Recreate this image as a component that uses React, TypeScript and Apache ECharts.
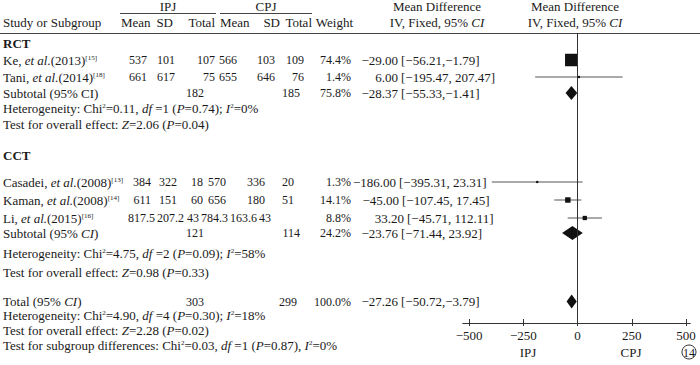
import React, { useEffect, useRef } from "react";
import * as echarts from "echarts";

// ---------- data ----------
const studyNames = ["Ke", "Tani", "Casadei", "Kaman", "Li"];
const studyYears = ["2013", "2014", "2008", "2008", "2015"];
const studyRefs = ["15", "18", "13", "14", "16"];
const ipjMean = ["537", "661", "384", "611", "817.5"];
const ipjSD = ["101", "617", "322", "151", "207.2"];
const ipjTotal = ["107", "75", "18", "60", "43"];
const cpjMean = ["566", "655", "570", "656", "784.3"];
const cpjSD = ["103", "646", "336", "180", "163.6"];
const cpjTotal = ["109", "76", "20", "51", "43"];
const studyWeight = [74.4, 1.4, 1.3, 14.1, 8.8];
const studyMD = [-29.0, 6.0, -186.0, -45.0, 33.2];
const studyLow = [-56.21, -195.47, -395.31, -107.45, -45.71];
const studyHigh = [-1.79, 207.47, 23.31, 17.45, 112.11];

const groupNames = ["RCT", "CCT"];
const pooledLabel = ["Subtotal (95% CI)", "Subtotal (95% {i|CI})", "Total (95% {i|CI})"];
const pooledIpjTotal = ["182", "121", "303"];
const pooledCpjTotal = ["185", "114", "299"];
const pooledWeight = ["75.8%", "24.2%", "100.0%"];
const pooledMD = [-28.37, -23.76, -27.26];
const pooledLow = [-55.33, -71.44, -50.72];
const pooledHigh = [-1.41, 23.92, -3.79];

const hetChi = ["0.11", "4.75", "4.90"];
const hetDf = ["1", "2", "4"];
const hetP = ["0.74", "0.09", "0.30"];
const hetI2 = ["0%", "58%", "18%"];
const overallZ = ["2.06", "0.98", "2.28"];
const overallP = ["0.04", "0.33", "0.02"];
const subgroupChi = "0.03";
const subgroupDf = "1";
const subgroupP = "0.87";
const subgroupI2 = "0%";

const axisTicks = [-500, -250, 0, 250, 500];
const favoursLabels = ["IPJ", "CPJ"];

// ---------- layout ----------
const FF = "'Liberation Serif', 'Times New Roman', serif";
const INK = "#1a1a1a";
const FS = 13; // words
const NS = 12; // table numbers
const LH = 12;
const studyRowY = [60, 77, 182, 200, 218];
const pooledRowY = [93, 233, 301.5];
const groupRowY = [43, 155];
const hetRowY = [108, 253, 315.5];
const overallRowY = [124, 272, 330];
const subgroupRowY = 345;
// anchor x of: ipj mean, ipj sd, ipj total, cpj mean, cpj sd, cpj total (right aligned unless leftAligned)
const studyCols = [
  [147, 175, 215, 237, 275, 304],
  [147, 175, 215, 237, 275, 304],
  [151, 177, 203, 226, 265, 294],
  [151, 177, 203, 226, 265, 294],
  [128, 157, 187, 201, 230, 259],
];
const studyColsLeft = [false, false, false, false, true];
const pooledCols = [
  [204, 300],
  [204, 300],
  [204, 297],
];
const weightRight = 351;
const mdRightStudy = [398, 398, 396, 399, 404];
const mdRightPooled = [398, 398, 398];

const fmt = (v: number) => (v < 0 ? "\u2212" : "") + Math.abs(v).toFixed(2);
const ciText = (lo: number, hi: number) =>
  "[" + fmt(lo) + "," + (hi >= 0 ? " " : "") + fmt(hi) + "]";

const rich = {
  i: { fontStyle: "italic", fontFamily: FF, fontSize: FS, fill: INK, lineHeight: LH },
  b: { fontWeight: "bold", fontFamily: FF, fontSize: FS, fill: INK, lineHeight: LH },
  sup: { fontFamily: FF, fontSize: 7, fill: INK, lineHeight: 7, verticalAlign: "top" },
};

function T(x: number, y: number, text: string, align: string = "left", size: number = FS, extra: any = {}) {
  return {
    type: "text",
    x,
    y,
    silent: true,
    style: {
      text,
      fill: INK,
      fontFamily: FF,
      fontSize: size,
      lineHeight: LH,
      align,
      verticalAlign: "middle",
      textAlign: align,
      textVerticalAlign: "middle",
      rich,
      ...extra,
    },
  };
}

function buildGraphics() {
  const els: any[] = [];
  // headers
  els.push(T(168, 6, "IPJ", "center"));
  els.push(T(266, 6, "CPJ", "center"));
  els.push({ type: "line", silent: true, shape: { x1: 120, y1: 13.5, x2: 216, y2: 13.5 }, style: { stroke: "#444", lineWidth: 1 } });
  els.push({ type: "line", silent: true, shape: { x1: 220, y1: 13.5, x2: 312, y2: 13.5 }, style: { stroke: "#444", lineWidth: 1 } });
  els.push(T(437, 6, "Mean Difference", "center"));
  els.push(T(575, 6, "Mean Difference", "center"));
  els.push(T(3, 22, "Study or Subgroup"));
  els.push(T(121, 22, "Mean"));
  els.push(T(173, 22, "SD", "right"));
  els.push(T(215, 22, "Total", "right"));
  els.push(T(220, 22, "Mean"));
  els.push(T(280, 22, "SD", "right"));
  els.push(T(312, 22, "Total", "right"));
  els.push(T(353, 22, "Weight", "right"));
  els.push(T(437, 22, "IV, Fixed, 95% {i|CI}", "center"));
  els.push(T(575, 22, "IV, Fixed, 95% {i|CI}", "center"));
  els.push({ type: "line", silent: true, shape: { x1: 0, y1: 33.5, x2: 700, y2: 33.5 }, style: { stroke: "#444", lineWidth: 1 } });

  groupNames.forEach((g, i) => {
    els.push(T(3, groupRowY[i], "{b|" + g + "}"));
  });

  studyNames.forEach((n, i) => {
    const y = studyRowY[i];
    const c = studyCols[i];
    const al = studyColsLeft[i] ? "left" : "right";
    els.push(T(3, y, n + ", {i|et al.}(" + studyYears[i] + "){sup|[" + studyRefs[i] + "]}"));
    [ipjMean[i], ipjSD[i], ipjTotal[i], cpjMean[i], cpjSD[i], cpjTotal[i]].forEach((v, k) => {
      els.push(T(c[k], y, v, al, NS));
    });
    els.push(T(weightRight, y, studyWeight[i].toFixed(1) + "%", "right", NS));
    els.push(T(mdRightStudy[i], y, fmt(studyMD[i]), "right"));
    els.push(T(mdRightStudy[i] + 3, y, ciText(studyLow[i], studyHigh[i])));
  });

  pooledLabel.forEach((lab, i) => {
    const y = pooledRowY[i];
    els.push(T(3, y, lab));
    els.push(T(pooledCols[i][0], y, pooledIpjTotal[i], "right", NS));
    els.push(T(pooledCols[i][1], y, pooledCpjTotal[i], "right", NS));
    els.push(T(weightRight, y, pooledWeight[i], "right", NS));
    els.push(T(mdRightPooled[i], y, fmt(pooledMD[i]), "right"));
    els.push(T(mdRightPooled[i] + 3, y, ciText(pooledLow[i], pooledHigh[i])));
  });

  hetChi.forEach((c, i) => {
    els.push(
      T(3, hetRowY[i],
        "Heterogeneity: Chi{sup|2}=" + c + ", {i|df} =" + hetDf[i] + " ({i|P}=" + hetP[i] + "); {i|I}{sup|2}=" + hetI2[i])
    );
    els.push(T(3, overallRowY[i], "Test for overall effect: {i|Z}=" + overallZ[i] + " ({i|P}=" + overallP[i] + ")"));
  });
  els.push(
    T(3, subgroupRowY,
      "Test for subgroup differences: Chi{sup|2}=" + subgroupChi + ", {i|df} =" + subgroupDf + " ({i|P}=" + subgroupP + "), {i|I}{sup|2}=" + subgroupI2)
  );

  els.push(T(528, 352, favoursLabels[0], "center"));
  els.push(T(631, 352, favoursLabels[1], "center"));
  els.push({ type: "circle", silent: true, shape: { cx: 689, cy: 352, r: 7 }, style: { fill: "none", stroke: "#333", lineWidth: 1 } });
  els.push(T(689, 352.5, "14", "center", 12, { lineHeight: 12 }));
  return els;
}

function buildSeriesData() {
  const d: any[] = [];
  studyNames.forEach((_, i) => {
    d.push([studyMD[i], studyLow[i], studyHigh[i], studyRowY[i], studyWeight[i], 0]);
  });
  pooledMD.forEach((m, i) => {
    d.push([m, pooledLow[i], pooledHigh[i], pooledRowY[i], 0, 1]);
  });
  return d;
}

export default function App() {
  const ref = useRef<HTMLDivElement>(null);
  useEffect(() => {
    if (!ref.current) return;
    const chart = echarts.init(ref.current, undefined, { renderer: "svg" });
    const axisCommon = {
      type: "value",
      min: -528,
      max: 518,
      position: "bottom",
      splitLine: { show: false },
      axisLine: { show: true, lineStyle: { color: "#333", width: 1 } },
    };
    chart.setOption({
      animation: false,
      backgroundColor: "#ffffff",
      grid: { left: 463, width: 227, top: 33, height: 290, containLabel: false },
      xAxis: [
        {
          ...axisCommon,
          axisTick: { show: true, inside: false, length: 3, lineStyle: { color: "#333" }, customValues: axisTicks },
          axisLabel: {
            show: true,
            margin: 6,
            customValues: axisTicks,
            color: INK,
            fontFamily: FF,
            fontSize: 13,
            formatter: (v: number) => (v < 0 ? "\u2212" + Math.abs(v) : String(v)),
          },
        },
        {
          ...axisCommon,
          axisTick: { show: true, inside: true, length: 4, lineStyle: { color: "#333" }, customValues: axisTicks },
          axisLabel: { show: false },
        },
      ],
      yAxis: { type: "value", min: 33, max: 323, inverse: true, show: false },
      series: [
        {
          type: "custom",
          xAxisIndex: 0,
          clip: false,
          silent: true,
          encode: { x: [0, 1, 2], y: 3 },
          data: buildSeriesData(),
          renderItem: (params: any, api: any) => {
            const y = api.value(3);
            const kind = api.value(5);
            const m = api.coord([api.value(0), y]);
            const lo = api.coord([api.value(1), y]);
            const hi = api.coord([api.value(2), y]);
            if (kind === 0) {
              const s = Math.max(2.2, 1.45 * Math.sqrt(api.value(4)));
              return {
                type: "group",
                children: [
                  { type: "line", shape: { x1: lo[0], y1: m[1], x2: hi[0], y2: m[1] }, style: { stroke: "#555", lineWidth: 1 } },
                  { type: "rect", shape: { x: m[0] - s / 2, y: m[1] - s / 2, width: s, height: s }, style: { fill: "#111" } },
                ],
              };
            }
            return {
              type: "polygon",
              shape: { points: [[lo[0], m[1]], [m[0], m[1] - 7], [hi[0], m[1]], [m[0], m[1] + 7]] },
              style: { fill: "#111" },
            };
          },
          markLine: {
            silent: true,
            symbol: "none",
            label: { show: false },
            lineStyle: { color: "#333", width: 1, type: "solid" },
            data: [{ xAxis: 0 }],
          },
        },
      ],
      graphic: { elements: buildGraphics() },
    });
    return () => chart.dispose();
  }, []);
  return <div ref={ref} style={{ position: "fixed", left: 0, top: 0, width: 700, height: 365 }} />;
}
